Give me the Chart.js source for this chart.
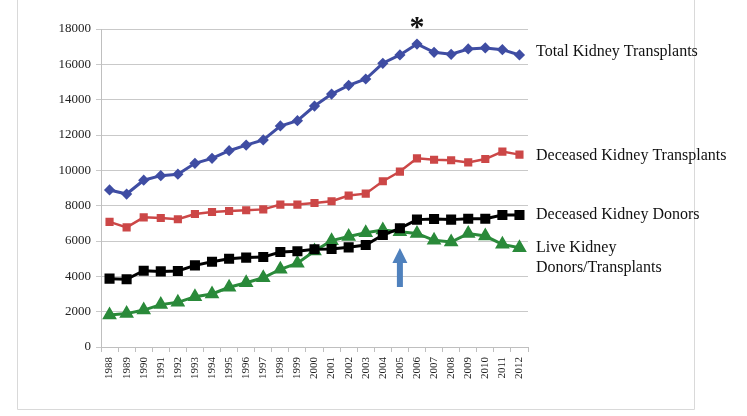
<!DOCTYPE html>
<html>
<head>
<meta charset="utf-8">
<script src="https://cdn.jsdelivr.net/npm/chart.js@4/dist/chart.umd.min.js"></script>
<style>
html,body{margin:0;padding:0;background:#fff;}
#wrap{width:747px;height:416px;position:relative;}
</style>
</head>
<body>
<div id="wrap"><canvas id="c" width="747" height="416"></canvas></div>
<script>
// ---- data ----
const years = ["1988","1989","1990","1991","1992","1993","1994","1995","1996","1997","1998","1999","2000","2001","2002","2003","2004","2005","2006","2007","2008","2009","2010","2011","2012"];
const totalTransplants = [8890,8660,9440,9700,9780,10400,10680,11110,11430,11720,12510,12810,13640,14320,14810,15170,16060,16530,17150,16680,16570,16870,16930,16830,16530];
const deceasedTransplants = [7080,6770,7340,7300,7230,7530,7640,7700,7740,7790,8060,8060,8150,8250,8570,8680,9380,9930,10680,10600,10570,10450,10640,11060,10890];
const deceasedDonors = [3870,3830,4320,4280,4300,4620,4830,5000,5060,5090,5380,5420,5530,5550,5640,5770,6340,6720,7210,7250,7210,7260,7260,7470,7470];
const liveDonors = [1810,1890,2090,2400,2530,2850,3000,3380,3640,3920,4400,4740,5430,6020,6250,6470,6620,6530,6430,6040,5940,6420,6280,5810,5620];
const seriesLabels = [["Total Kidney Transplants"],["Deceased Kidney Transplants"],["Deceased Kidney Donors"],["Live Kidney","Donors/Transplants"]];
const yTicks = [0,2000,4000,6000,8000,10000,12000,14000,16000,18000];
const asteriskYear = "2006";
const arrowYear = "2005";
const arrowTipValue = 5600;
const arrowTailValue = 3400;

const SERIF = "'Liberation Serif','Times New Roman',serif";

const annotPlugin = {
  id: 'annot',
  afterDraw(chart) {
    const ctx = chart.ctx;
    const xs = chart.scales.x, ys = chart.scales.y;
    const ca = chart.chartArea;
    ctx.save();
    // outer frame
    ctx.strokeStyle = '#d9d9d9';
    ctx.lineWidth = 1;
    ctx.beginPath();
    ctx.moveTo(17.5, 0); ctx.lineTo(17.5, 409.5); ctx.lineTo(694.5, 409.5); ctx.lineTo(694.5, 0);
    ctx.stroke();
    // series labels
    ctx.fillStyle = '#111';
    ctx.font = '16px ' + SERIF;
    ctx.textAlign = 'left';
    ctx.textBaseline = 'middle';
    const offs = [-3, 1, 0, 0];
    chart.data.datasets.forEach((ds, i) => {
      const last = ds.data[ds.data.length - 1];
      const y = ys.getPixelForValue(last) + offs[i];
      seriesLabels[i].forEach((line, k) => {
        ctx.fillText(line, ca.right + 8, y + k * 20);
      });
    });
    // asterisk
    const ax = xs.getPixelForValue(years.indexOf(asteriskYear));
    ctx.font = 'bold 30px ' + SERIF;
    ctx.textAlign = 'center';
    ctx.textBaseline = 'alphabetic';
    ctx.fillStyle = '#111';
    ctx.fillText('*', ax, ys.getPixelForValue(18000) + 7);
    // arrow
    const rx = xs.getPixelForValue(years.indexOf(arrowYear));
    const tip = ys.getPixelForValue(arrowTipValue);
    const tail = ys.getPixelForValue(arrowTailValue);
    const headLen = 15, headHalf = 7.5, shaftHalf = 3;
    ctx.fillStyle = '#4F81BD';
    ctx.beginPath();
    ctx.moveTo(rx, tip);
    ctx.lineTo(rx + headHalf, tip + headLen);
    ctx.lineTo(rx + shaftHalf, tip + headLen);
    ctx.lineTo(rx + shaftHalf, tail);
    ctx.lineTo(rx - shaftHalf, tail);
    ctx.lineTo(rx - shaftHalf, tip + headLen);
    ctx.lineTo(rx - headHalf, tip + headLen);
    ctx.closePath();
    ctx.fill();
    ctx.restore();
  }
};

new Chart(document.getElementById('c'), {
  type: 'line',
  data: {
    labels: years,
    datasets: [
      {label: seriesLabels[0].join(' '), data: totalTransplants, borderColor: '#3F4DA3', backgroundColor: '#3F4DA3', borderWidth: 3, pointStyle: 'rectRot', pointRadius: 3.5, tension: 0},
      {label: seriesLabels[1].join(' '), data: deceasedTransplants, borderColor: '#CC4747', backgroundColor: '#CC4747', borderWidth: 2.5, pointStyle: 'rect', pointRadius: 4, tension: 0},
      {label: seriesLabels[2].join(' '), data: deceasedDonors, borderColor: '#000000', backgroundColor: '#000000', borderWidth: 3, pointStyle: 'rect', pointRadius: 5, tension: 0},
      {label: seriesLabels[3].join(' '), data: liveDonors, borderColor: '#2A8A3A', backgroundColor: '#2A8A3A', borderWidth: 3, pointStyle: 'triangle', pointRadius: 5.5, tension: 0}
    ]
  },
  options: {
    responsive: false,
    animation: false,
    devicePixelRatio: 1,
    layout: {padding: {left: 0, top: 29, right: 219, bottom: 0}},
    plugins: {legend: {display: false}, tooltip: {enabled: false}},
    scales: {
      x: {
        type: 'category',
        offset: true,
        afterFit(s) { s.height = 69; },
        grid: {display: true, drawOnChartArea: false, drawTicks: true, tickLength: 5, offset: true, color: '#bfbfbf'},
        border: {display: true, color: '#bfbfbf'},
        ticks: {autoSkip: false, maxRotation: 90, minRotation: 90, padding: 5, color: '#222', font: {family: SERIF, size: 11}}
      },
      y: {
        min: 0, max: 18000,
        afterFit(s) { s.width = 101; },
        afterBuildTicks(s) { s.ticks = yTicks.map(v => ({value: v})); },
        grid: {color: '#c9c9c9', tickLength: 5, drawTicks: true},
        border: {display: true, color: '#bfbfbf'},
        ticks: {padding: 5, color: '#222', font: {family: SERIF, size: 13}, callback: v => String(v)}
      }
    }
  },
  plugins: [annotPlugin]
});
</script>
</body>
</html>
